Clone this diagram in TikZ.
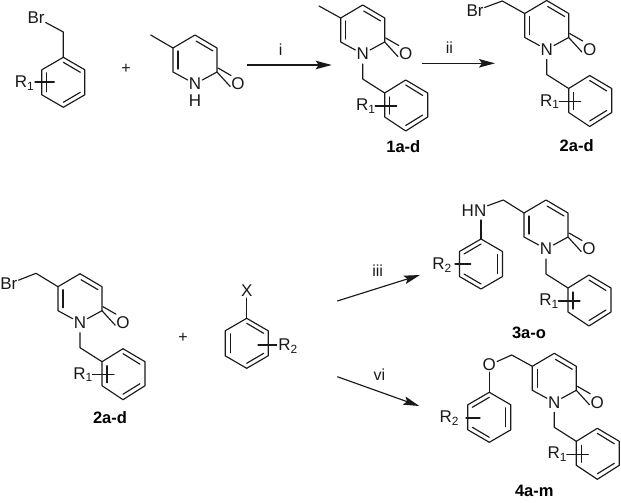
\documentclass[tikz,border=0pt]{standalone}
\usepackage{fontspec}
\setmainfont{Liberation Sans}
\usetikzlibrary{arrows.meta}
\tikzset{
  bond/.style={line width=1.15pt,line cap=round,line join=round,black!90},
  atom/.style={inner sep=1pt,font=\fontsize{17}{17}\selectfont,text=black!90},
  cmpd/.style={inner sep=0pt,font=\bfseries\fontsize{16.5}{16.5}\selectfont},
  lab/.style={inner sep=0pt,font=\fontsize{16}{16}\selectfont,text=black!90},
  rxn/.style={line width=1.15pt,black!90,-{Stealth[length=16pt,width=8.5pt,inset=3pt]}},
  pyr/.pic={
    \node[atom] (-N) at (0,0) {N};
    \node[atom] (-O) at (43,0) {O};
    \coordinate (-C6) at (-22,-12);
    \coordinate (-C5) at (-22,-36);
    \coordinate (-C4) at (0,-49);
    \coordinate (-C3) at (22,-36);
    \coordinate (-C2) at (22,-12);
    \draw[bond] (-N) -- (-C6) -- (-C5) -- (-C4) -- (-C3) -- (-C2) -- (-N);
    \draw[bond] (-17,-15) -- (-17,-33);
    \draw[bond] (1,-43) -- (18,-33);
    \draw[bond] (-C2) -- ([yshift=-2.5pt]-O.west);
    \draw[bond] (23,-16) -- (36,-8.5);
  },
  bnzl/.pic={
    \coordinate (-CH) at (0,25);
    \coordinate (-B1) at (22,39);
    \draw[bond] (0,10) -- (-CH) -- (-B1);
    \draw[bond] (-B1) -- (43,26) -- (65,39) -- (65,63) -- (43,77) -- (22,63) -- cycle;
    \draw[bond] (43,31) -- (60,41.5);
    \draw[bond] (60,61) -- (43,71.5);
    \draw[bond] (27,43) -- (27,60);
    \draw[bond] (12.5,52) -- (34,52);
    \node[atom,inner sep=0pt] at (3,52) {R\textsubscript{1}};
  },
  benzL/.pic={
    \draw[bond] (0,-25) -- (21.5,-12.5) -- (21.5,12.5) -- (0,25) -- (-21.5,12.5) -- (-21.5,-12.5) -- cycle;
    \draw[bond] (-16.5,-9.5) -- (-16.5,9.5);
    \draw[bond] (0,-20) -- (17,-10);
    \draw[bond] (0,20) -- (17,10);
  },
  benzR/.pic={
    \draw[bond] (0,-25) -- (21.5,-12.5) -- (21.5,12.5) -- (0,25) -- (-21.5,12.5) -- (-21.5,-12.5) -- cycle;
    \draw[bond] (16.5,-9.5) -- (16.5,9.5);
    \draw[bond] (0,-20) -- (-17,-10);
    \draw[bond] (0,20) -- (-17,10);
  }
}
\begin{document}
\begin{tikzpicture}[x=1pt,y=-1pt]
\useasboundingbox (0,0) rectangle (621,503);
% reactant benzyl bromide
\pic (ra) at (63.3,82.3) {benzL};
\node[atom] (brA) at (36,17.3) {Br};
\coordinate (chA) at (63.3,32);
\coordinate (raTop) at (63.3,57.3);
\draw[bond] (brA) -- (chA) -- (raTop);
\node[atom,inner sep=0pt] (rA) at (24.5,83) {R\textsubscript{1}};
\coordinate (sA1) at (35,82);
\coordinate (sA2) at (54.3,82);
\draw[bond] (sA1) -- (sA2);
\node[lab] (plusA) at (126,69) {+};
% methyl pyridone
\pic (p0) at (195,84) {pyr};
\node[atom,inner sep=0pt] (h0) at (195,100.5) {H};
\coordinate (me0) at (150.7,35);
\draw[bond] (me0) -- (p0-C5);
% arrows top
\coordinate (a1s) at (247.3,65);
\coordinate (a1e) at (331.7,65);
\draw[rxn] (a1s) -- (a1e);
\node[lab] (li) at (280.7,49.3) {i};
\coordinate (a2s) at (421.7,63.3);
\coordinate (a2e) at (495,63.3);
\draw[rxn] (a2s) -- (a2e);
\node[lab] (lii) at (449.3,47.3) {ii};
% compound 1
\pic (p1) at (362.7,54) {pyr};
\pic (b1) at (362.7,54) {bnzl};
\coordinate (me1) at (319,6);
\draw[bond] (me1) -- (p1-C5);
\node[cmpd] (c1) at (403.3,146.7) {1a-d};
% compound 2
\pic (p2) at (546.7,49.5) {pyr};
\pic (b2) at (546.7,49.5) {bnzl};
\node[atom] (br2) at (475,11) {Br};
\coordinate (ch2) at (502.3,1);
\draw[bond] (br2) -- (ch2) -- (p2-C5);
\node[cmpd] (c2) at (576.7,145.7) {2a-d};
% lower compound 2
\pic (p3) at (80,322.7) {pyr};
\pic (b3) at (80,322.7) {bnzl};
\node[atom] (br3) at (8.8,284) {Br};
\coordinate (ch3) at (36,273.3);
\draw[bond] (br3) -- (ch3) -- (p3-C5);
\node[cmpd] (c3) at (110,417.7) {2a-d};
\node[lab] (plusB) at (183,337.7) {+};
% aryl X
\pic (rx) at (246.7,343.3) {benzL};
\node[atom] (x) at (246.7,291) {X};
\coordinate (rxTop) at (246.7,318.3);
\draw[bond] (x) -- (rxTop);
\node[atom,inner sep=0pt] (r2x) at (288,346) {R\textsubscript{2}};
\coordinate (sx) at (258,345);
\coordinate (sxe) at (276.7,345);
\draw[bond] (sx) -- (sxe);
% arrows lower
\coordinate (a3s) at (337.3,301);
\coordinate (a3e) at (420,275);
\draw[rxn] (a3s) -- (a3e);
\node[lab] (liii) at (377.7,270.7) {iii};
\coordinate (a4s) at (337.3,376.7);
\coordinate (a4e) at (419.3,406);
\draw[rxn] (a4s) -- (a4e);
\node[lab] (lvi) at (379.3,375) {vi};
% compound 3
\pic (p4) at (546,249) {pyr};
\pic (b4) at (546,249) {bnzl};
\pic (r4) at (481,264) {benzR};
\node[atom] (hn) at (474,210.7) {HN};
\coordinate (ch4) at (503.3,200);
\coordinate (r4Top) at (481,239);
\coordinate (hnb) at (481,220);
\draw[bond] (hn) -- (ch4) -- (p4-C5);
\draw[bond] (hnb) -- (r4Top);
\node[atom,inner sep=0pt] (r24) at (442,265) {R\textsubscript{2}};
\coordinate (s4a) at (455,264);
\coordinate (s4b) at (470.7,264);
\draw[bond] (s4a) -- (s4b);
\node[cmpd] (c4) at (529,333) {3a-o};
% compound 4
\pic (p5) at (554.3,402.3) {pyr};
\pic (b5) at (554.3,402.3) {bnzl};
\pic (r5) at (489.3,417.3) {benzR};
\node[atom] (o5) at (489.3,365) {O};
\coordinate (ch5) at (511.7,355);
\coordinate (r5Top) at (489.3,392.3);
\draw[bond] (o5) -- (ch5) -- (p5-C5);
\draw[bond] (o5) -- (r5Top);
\node[atom,inner sep=0pt] (r25) at (449.3,418.3) {R\textsubscript{2}};
\coordinate (s5a) at (466,418);
\coordinate (s5b) at (480,418);
\draw[bond] (s5a) -- (s5b);
\node[cmpd] (c5) at (534.3,490.7) {4a-m};
\end{tikzpicture}
\end{document}
